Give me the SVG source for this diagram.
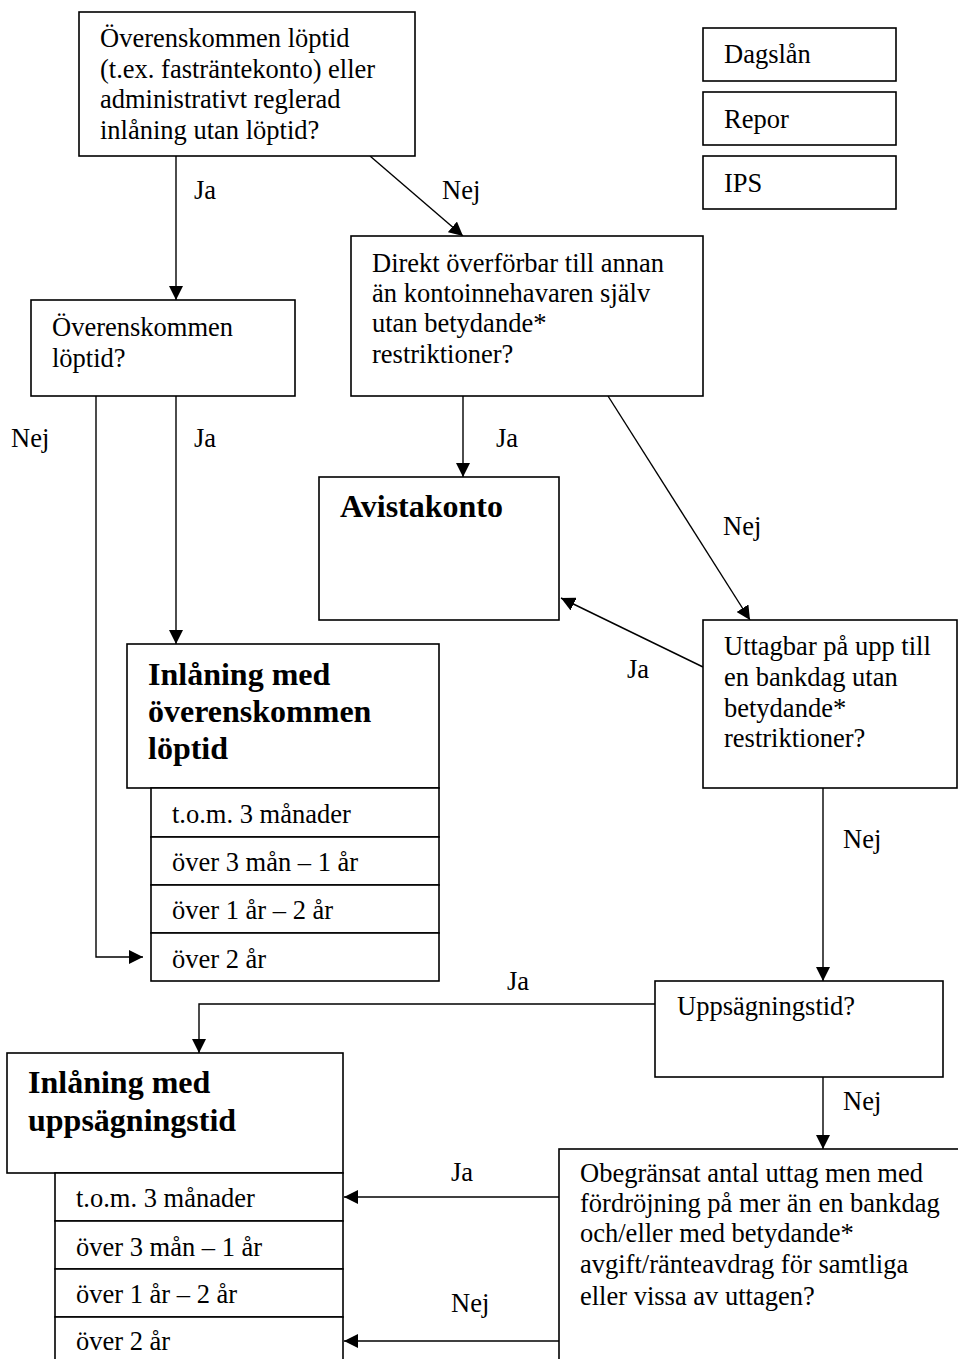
<svg xmlns="http://www.w3.org/2000/svg" width="958" height="1359" viewBox="0 0 958 1359">
<style>
.box{fill:#fff;stroke:#000;stroke-width:1.6}
.t{font-family:"Liberation Serif","Times New Roman",serif;font-size:26.5px;fill:#000}
.b{font-family:"Liberation Serif","Times New Roman",serif;font-size:32px;font-weight:bold;fill:#000}
.c{fill:none;stroke:#000;stroke-width:1.4}
</style>
<defs>
<marker id="ah" markerUnits="userSpaceOnUse" markerWidth="14" markerHeight="14" refX="14" refY="7" orient="auto">
<path d="M0,0 L14,7 L0,14 z" fill="#000"/>
</marker>
</defs>
<rect width="958" height="1359" fill="#fff"/>
<g id="connectors">
<line class="c" x1="176" y1="156" x2="176" y2="300" marker-end="url(#ah)"/>
<line class="c" x1="370" y1="156" x2="463" y2="236" marker-end="url(#ah)"/>
<polyline class="c" points="96,396 96,957 143,957" marker-end="url(#ah)"/>
<line class="c" x1="176" y1="396" x2="176" y2="644" marker-end="url(#ah)"/>
<line class="c" x1="463" y1="396" x2="463" y2="477" marker-end="url(#ah)"/>
<line class="c" x1="608" y1="396" x2="750" y2="620" marker-end="url(#ah)"/>
<line class="c" x1="703" y1="667" x2="561" y2="598" marker-end="url(#ah)"/>
<line class="c" x1="823" y1="788" x2="823" y2="981" marker-end="url(#ah)"/>
<polyline class="c" points="655,1004 199,1004 199,1053" marker-end="url(#ah)"/>
<line class="c" x1="823" y1="1077" x2="823" y2="1149" marker-end="url(#ah)"/>
<line class="c" x1="559" y1="1197" x2="344" y2="1197" marker-end="url(#ah)"/>
<line class="c" x1="559" y1="1341" x2="344" y2="1341" marker-end="url(#ah)"/>
<text class="t" x="194" y="199">Ja</text>
<text class="t" x="442" y="199">Nej</text>
<text class="t" x="11" y="447">Nej</text>
<text class="t" x="194" y="447">Ja</text>
<text class="t" x="496" y="447">Ja</text>
<text class="t" x="723" y="535">Nej</text>
<text class="t" x="627" y="678">Ja</text>
<text class="t" x="843" y="848">Nej</text>
<text class="t" x="507" y="990">Ja</text>
<text class="t" x="843" y="1110">Nej</text>
<text class="t" x="451" y="1181">Ja</text>
<text class="t" x="451" y="1312">Nej</text>
</g>
<g id="q1">
<rect class="box" x="79" y="12" width="336" height="144"/>
<text class="t" x="100" y="47">Överenskommen löptid</text>
<text class="t" x="100" y="78">(t.ex. fasträntekonto) eller</text>
<text class="t" x="100" y="108">administrativt reglerad</text>
<text class="t" x="100" y="139">inlåning utan löptid?</text>
</g>
<g id="dagslan">
<rect class="box" x="703" y="28" width="193" height="53"/>
<text class="t" x="724" y="63">Dagslån</text>
</g>
<g id="repor">
<rect class="box" x="703" y="92" width="193" height="53"/>
<text class="t" x="724" y="128">Repor</text>
</g>
<g id="ips">
<rect class="box" x="703" y="156" width="193" height="53"/>
<text class="t" x="724" y="192">IPS</text>
</g>
<g id="q2">
<rect class="box" x="31" y="300" width="264" height="96"/>
<text class="t" x="52" y="336">Överenskommen</text>
<text class="t" x="52" y="367">löptid?</text>
</g>
<g id="q3">
<rect class="box" x="351" y="236" width="352" height="160"/>
<text class="t" x="372" y="272">Direkt överförbar till annan</text>
<text class="t" x="372" y="302">än kontoinnehavaren själv</text>
<text class="t" x="372" y="332">utan betydande*</text>
<text class="t" x="372" y="363">restriktioner?</text>
</g>
<g id="avista">
<rect class="box" x="319" y="477" width="240" height="143"/>
<text class="b" x="340" y="517">Avistakonto</text>
</g>
<g id="q4">
<rect class="box" x="703" y="620" width="254" height="168"/>
<text class="t" x="724" y="655">Uttagbar på upp till</text>
<text class="t" x="724" y="686">en bankdag utan</text>
<text class="t" x="724" y="717">betydande*</text>
<text class="t" x="724" y="747">restriktioner?</text>
</g>
<g id="lop">
<rect class="box" x="127" y="644" width="312" height="144"/>
<text class="b" x="148" y="685">Inlåning med</text>
<text class="b" x="148" y="722">överenskommen</text>
<text class="b" x="148" y="759">löptid</text>
<rect class="box" x="151" y="788" width="288" height="49"/>
<text class="t" x="172" y="823">t.o.m. 3 månader</text>
<rect class="box" x="151" y="837" width="288" height="48"/>
<text class="t" x="172" y="871">över 3 mån – 1 år</text>
<rect class="box" x="151" y="885" width="288" height="48"/>
<text class="t" x="172" y="919">över 1 år – 2 år</text>
<rect class="box" x="151" y="933" width="288" height="48"/>
<text class="t" x="172" y="968">över 2 år</text>
</g>
<g id="q5">
<rect class="box" x="655" y="981" width="288" height="96"/>
<text class="t" x="677" y="1015">Uppsägningstid?</text>
</g>
<g id="upps">
<rect class="box" x="7" y="1053" width="336" height="120"/>
<text class="b" x="28" y="1093">Inlåning med</text>
<text class="b" x="28" y="1131">uppsägningstid</text>
<rect class="box" x="55" y="1173" width="288" height="48"/>
<text class="t" x="76" y="1207">t.o.m. 3 månader</text>
<rect class="box" x="55" y="1221" width="288" height="48"/>
<text class="t" x="76" y="1256">över 3 mån – 1 år</text>
<rect class="box" x="55" y="1269" width="288" height="48"/>
<text class="t" x="76" y="1303">över 1 år – 2 år</text>
<rect class="box" x="55" y="1317" width="288" height="60"/>
<text class="t" x="76" y="1350">över 2 år</text>
</g>
<g id="q6">
<rect class="box" x="559" y="1149" width="420" height="240"/>
<text class="t" x="580" y="1182">Obegränsat antal uttag men med</text>
<text class="t" x="580" y="1212">fördröjning på mer än en bankdag</text>
<text class="t" x="580" y="1242">och/eller med betydande*</text>
<text class="t" x="580" y="1273">avgift/ränteavdrag för samtliga</text>
<text class="t" x="580" y="1305">eller vissa av uttagen?</text>
</g>
</svg>
